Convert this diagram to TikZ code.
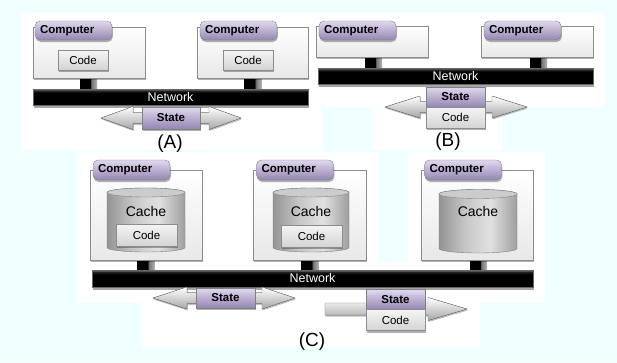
\documentclass[tikz,border=0pt]{standalone}
\usepackage{fontspec}
\setmainfont{Liberation Sans}
\usetikzlibrary{shadows}

\definecolor{bgcyan}{RGB}{240,255,255}
\definecolor{tabtop}{RGB}{224,216,238}
\definecolor{tabbot}{RGB}{148,134,178}

\newcommand{\setfs}[1]{\fontsize{#1}{#1}\selectfont}

% black bar with a grey highlight along its top edge
\pgfdeclareverticalshading{netshade}{100bp}{color(0bp)=(black); color(25bp)=(black); color(62bp)=(black); color(70bp)=(black!85); color(75bp)=(black!45); color(100bp)=(black!45)}
% stub joining a computer to the network: black with a grey right part
\pgfdeclarehorizontalshading{stubshade}{100bp}{color(0bp)=(black); color(25bp)=(black); color(55bp)=(black); color(58bp)=(black!55); color(75bp)=(black!30); color(100bp)=(black!30)}
% cylinder body
\pgfdeclarehorizontalshading{cylshade}{100bp}{color(0bp)=(black!42); color(25bp)=(black!42); color(42bp)=(black!22); color(58bp)=(black!12); color(75bp)=(black!38); color(100bp)=(black!38)}

\tikzset{
  softshadow/.style={drop shadow={shadow xshift=0.8pt, shadow yshift=-2pt, opacity=0.3, fill=black}},
  panel/.style={fill=white},
  compbody/.style={draw=black!45, top color=white, bottom color=black!9, inner sep=0pt, softshadow},
  comptab/.style={draw=black!50, rounded corners=5pt, top color=tabtop, bottom color=tabbot,
    font=\bfseries\setfs{11.5}, text width=67pt, align=left, inner xsep=5pt, inner ysep=0pt,
    minimum width=77pt, softshadow},
  codebox/.style={draw=black!45, top color=black!4, bottom color=black!17, font=\setfs{11.5},
    inner sep=0pt, softshadow},
  statebox/.style={draw=black!50, top color=tabtop, bottom color=tabbot, font=\bfseries\setfs{11.5},
    inner sep=0pt, softshadow},
  netbar/.style={draw=black!60, shading=netshade, text=white, font=\setfs{12.5}, inner sep=0pt,
    drop shadow={shadow xshift=0.8pt, shadow yshift=-2.5pt, opacity=0.35, fill=black}},
  stubbar/.style={shading=stubshade, inner sep=0pt, minimum width=17pt},
  blockarrow/.style={draw=black!55, top color=white, bottom color=black!35, line join=miter,
    drop shadow={shadow xshift=0.6pt, shadow yshift=-1.5pt, opacity=0.25, fill=black}},
  cachelabel/.style={font=\setfs{14}, inner sep=0pt},
  caption/.style={font=\setfs{19}, inner sep=0pt},
}

% cylinder: centre x, top y, bottom y, half width
\newcommand{\drawcyl}[4]{%
  \shade[shading=cylshade, draw=black!50]
    (#1-#4,#2) -- (#1-#4,#3) arc[start angle=180, end angle=360, x radius=#4pt, y radius=4.5pt]
    -- (#1+#4,#2) arc[start angle=0, end angle=180, x radius=#4pt, y radius=4.5pt] -- cycle;
  \draw[draw=black!50, fill=black!20] (#1,#2) ellipse[x radius=#4pt, y radius=4.5pt];
}

\begin{document}
\begin{tikzpicture}[x=1pt, y=-1pt]
\fill[bgcyan] (0,0) rectangle (617,362);
\useasboundingbox (0,0) rectangle (617,362);

% white panels behind the three groups
\fill[panel] (22,13) rectangle (322,150);
\fill[panel] (305,13) rectangle (605,107);
\fill[panel] (372,107) rectangle (503,150);
\fill[panel] (78,152) rectangle (378,303);
\fill[panel] (408,152) rectangle (545,303);
\fill[panel] (78,262) rectangle (545,303);
\fill[panel] (142,262) rectangle (480,348);

% ---------------- (A) ----------------
\node[stubbar, minimum height=12pt] (a1s) at (88.5,84) {};
\node[stubbar, minimum height=12pt] (a2s) at (253,84) {};
\node[compbody, minimum width=112pt, minimum height=51pt] (a1) at (89,52.5) {};
\node[compbody, minimum width=111pt, minimum height=51pt] (a2) at (252.5,52.5) {};
\node[comptab, minimum height=19pt] (a1t) at (73.5,30.5) {Computer};
\node[comptab, minimum height=19pt] (a2t) at (238.5,30.5) {Computer};
\node[codebox, minimum width=50pt, minimum height=20pt] (a1c) at (83,60) {Code};
\node[codebox, minimum width=50pt, minimum height=20pt] (a2c) at (248,60) {Code};
\node[netbar, minimum width=275pt, minimum height=16pt] (anet) at (170.5,97) {Network};
\filldraw[blockarrow] (101,118) -- (133,106.5) -- (133,112.5) -- (209,112.5) -- (209,106.5)
  -- (241,118) -- (209,129.5) -- (209,123.5) -- (133,123.5) -- (133,129.5) -- cycle;
\node[statebox, minimum width=58pt, minimum height=22pt] (ast) at (171,118) {State};
\node[caption] (acap) at (170,144) {(A)};

% ---------------- (B) ----------------
\node[stubbar, minimum height=11pt] (b1s) at (373.5,62.5) {};
\node[stubbar, minimum height=11pt] (b2s) at (538.5,62.5) {};
\node[compbody, minimum width=112pt, minimum height=31pt] (b1) at (372,41.5) {};
\node[compbody, minimum width=112pt, minimum height=31pt] (b2) at (537,41.5) {};
\node[comptab, minimum height=19pt] (b1t) at (357.5,30.5) {Computer};
\node[comptab, minimum height=19pt] (b2t) at (522.5,30.5) {Computer};
\node[netbar, minimum width=275pt, minimum height=16pt] (bnet) at (455.5,76) {Network};
\filldraw[blockarrow] (385,107) -- (420,96) -- (420,101.5) -- (492,101.5) -- (492,96)
  -- (527,107) -- (492,118) -- (492,112.5) -- (420,112.5) -- (420,118) -- cycle;
\node[statebox, minimum width=59pt, minimum height=20pt] (bst) at (455.5,97) {State};
\node[codebox, minimum width=59pt, minimum height=21pt] (bcd) at (455.5,117.5) {Code};
\node[caption] (bcap) at (448,142) {(B)};

% ---------------- (C) ----------------
\node[stubbar, minimum height=10pt] (c1s) at (146,265) {};
\node[stubbar, minimum height=10pt] (c2s) at (310,265) {};
\node[stubbar, minimum height=10pt] (c3s) at (478.5,265) {};
\node[compbody, minimum width=112pt, minimum height=90pt] (c1) at (146,215) {};
\node[compbody, minimum width=113pt, minimum height=90pt] (c2) at (309.5,215) {};
\node[compbody, minimum width=112pt, minimum height=90pt] (c3) at (477,215) {};
\node[comptab, minimum height=20pt] (c1t) at (131.5,170) {Computer};
\node[comptab, minimum height=20pt] (c2t) at (295,170) {Computer};
\node[comptab, minimum height=20pt] (c3t) at (463,170) {Computer};
\drawcyl{146}{192.5}{247.5}{39}
\drawcyl{311}{192.5}{247.5}{38}
\drawcyl{478}{194}{248.5}{39}
\node[cachelabel] (c1k) at (146,211) {Cache};
\node[cachelabel] (c2k) at (311,211) {Cache};
\node[cachelabel] (c3k) at (478,211) {Cache};
\node[codebox, minimum width=61pt, minimum height=22pt] (c1c) at (146.5,235) {Code};
\node[codebox, minimum width=61pt, minimum height=22pt] (c2c) at (311.5,236) {Code};
\node[netbar, minimum width=441pt, minimum height=17pt] (cnet) at (312.5,278.5) {Network};
\filldraw[blockarrow] (153,298) -- (187,287) -- (187,292.5) -- (262,292.5) -- (262,287)
  -- (295,298) -- (262,309) -- (262,303.5) -- (187,303.5) -- (187,309) -- cycle;
\node[statebox, minimum width=59pt, minimum height=20pt] (cst) at (225.5,298) {State};
\filldraw[blockarrow] (325,303) -- (428,303) -- (428,297.5) -- (467,309) -- (428,320.5)
  -- (428,315) -- (325,315) -- cycle;
\node[statebox, minimum width=59pt, minimum height=20pt] (cst2) at (395.5,299.5) {State};
\node[codebox, minimum width=59pt, minimum height=21pt] (ccd2) at (395.5,320) {Code};
\node[caption] (ccap) at (312,342) {(C)};
\end{tikzpicture}
\end{document}
